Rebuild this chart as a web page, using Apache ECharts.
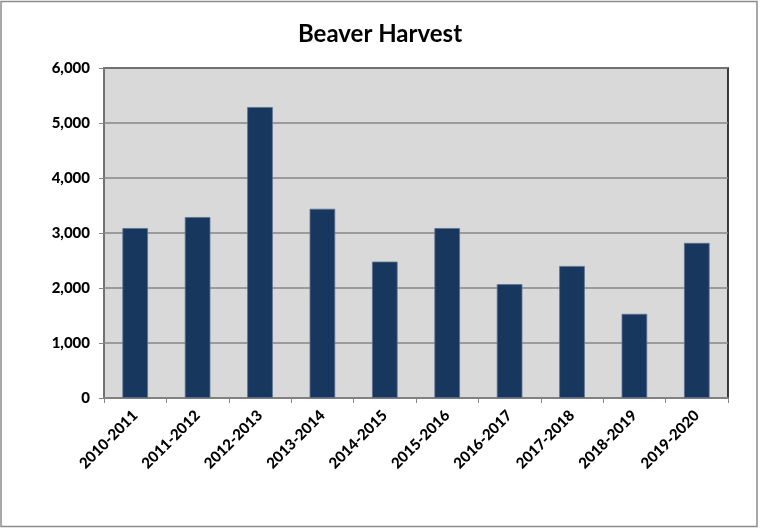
<!DOCTYPE html>
<html>
<head>
<meta charset="utf-8">
<script src="https://cdn.jsdelivr.net/npm/echarts@6/dist/echarts.min.js"></script>
<style>
  html, body { margin: 0; padding: 0; background: #fff; }
  #chart { width: 760px; height: 529px; }
</style>
</head>
<body>
<div id="chart"></div>
<script>
// seasons and harvest counts
const seasons = ['2010-2011', '2011-2012', '2012-2013', '2013-2014', '2014-2015',
  '2015-2016', '2016-2017', '2017-2018', '2018-2019', '2019-2020']
const harvest = [3090, 3290, 5290, 3440, 2480, 3090, 2070, 2400, 1530, 2820]

const chart = echarts.init(document.getElementById('chart'))

const option = {
  backgroundColor: '#fff',
  animation: false,
  title: {
    text: 'Beaver Harvest',
    left: 'center',
    top: 17,
    textStyle: { fontFamily: 'Lato', fontWeight: 'bold', fontSize: 24, color: '#000' }
  },
  grid: {
    left: 104,
    right: 32,
    top: 68,
    bottom: 131,
    show: true,
    backgroundColor: '#d9d9d9',
    borderColor: '#000',
    borderWidth: 1.5
  },
  xAxis: {
    type: 'category',
    data: seasons,
    axisLine: { lineStyle: { color: '#868686', width: 1.5 } },
    axisTick: { show: true, length: 5, lineStyle: { color: '#868686' } },
    axisLabel: {
      rotate: 45,
      margin: 15,
      color: '#000',
      fontFamily: 'Lato',
      fontWeight: 900,
      fontSize: 15
    }
  },
  yAxis: {
    type: 'value',
    min: 0,
    max: 6000,
    interval: 1000,
    axisLine: { show: true, lineStyle: { color: '#868686', width: 1.5 } },
    axisTick: { show: true, length: 5, lineStyle: { color: '#868686' } },
    axisLabel: {
      margin: 14,
      color: '#000',
      fontFamily: 'Lato',
      fontWeight: 900,
      fontSize: 15,
      formatter: (v) => v.toLocaleString('en-US')
    },
    splitLine: { lineStyle: { color: '#868686', width: 1.5 } }
  },
  series: [
    {
      name: 'Beaver Harvest',
      type: 'bar',
      data: harvest,
      barWidth: '41%',
      itemStyle: { color: '#17375e', borderColor: '#5d7190', borderWidth: 0.8 }
    }
  ],
  graphic: [
    {
      type: 'rect',
      shape: { x: 1, y: 1.5, width: 756, height: 525 },
      style: { fill: 'none', stroke: '#8c8c8c', lineWidth: 1.5 },
      silent: true
    }
  ]
}

chart.setOption(option)
</script>
</body>
</html>
